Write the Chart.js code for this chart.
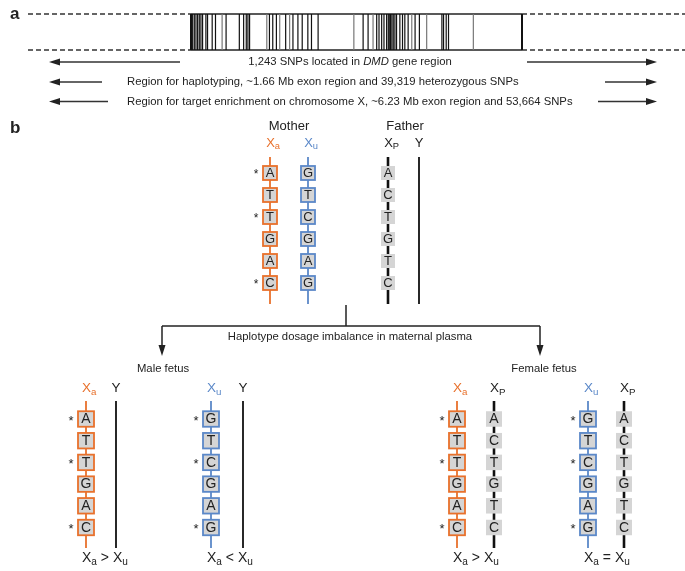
<!DOCTYPE html>
<html>
<head>
<meta charset="utf-8">
<script src="https://cdn.jsdelivr.net/npm/chart.js@4.4.0/dist/chart.umd.min.js"></script>
<style>
  html, body { margin: 0; padding: 0; background: #fff; }
  #wrap { width: 685px; height: 571px; position: relative; }
</style>
</head>
<body>
<div id="wrap"><canvas id="diagram"></canvas></div>
<script>
// SNP positions inside the DMD gene region (% of region length)
const snpPositions = [0, 0.5, 1, 1.5, 2, 2.5, 3, 3.5, 4.5, 5, 6.4, 7.4, 9.4, 10.6, 14.6, 15.9, 16.7, 17.2, 17.7,
  22.9, 23.7, 24.7, 25.8, 26.8, 28.6, 29.8, 30.8, 32.3, 33.6, 35.3, 36.4, 38.4, 49.2, 52, 53.5, 55, 56.1, 56.8,
  57.6, 58.3, 59.1, 59.6, 59.9, 60.3, 60.7, 61.1, 61.6, 62.1, 63.1, 63.9, 64.6, 65.6, 66.7, 67.7, 69, 71.2,
  75.8, 76.3, 77.1, 77.8, 85.3, 100];
const lightSnps = [9.4, 22.9, 26.8, 29.8, 49.2, 55, 66.7, 71.2, 85.3];

const regionTexts = [
  ['1,243 SNPs located in ', 'DMD', ' gene region'],
  ['Region for haplotyping, ~1.66 Mb exon region and 39,319 heterozygous SNPs'],
  ['Region for target enrichment on chromosome X, ~6.23 Mb exon region and 53,664 SNPs']
];

// alleles at the six SNP sites
const maternalXa = ['A', 'T', 'T', 'G', 'A', 'C'];
const maternalXu = ['G', 'T', 'C', 'G', 'A', 'G'];
const paternalXp = ['A', 'C', 'T', 'G', 'T', 'C'];
const starredSites = [0, 2, 5];

const fetusLabels = ['Male fetus', 'Female fetus'];
const dosageRelations = ['>', '<', '>', '='];

const ORANGE = '#e8712c';
const BLUE = '#5b88c8';
const BOXGREY = '#d5d5d5';
const INK = '#222';
const FONT = '"Liberation Sans", Arial, sans-serif';

const diagramPlugin = {
  id: 'diagram',
  afterDraw(chart) {
    const ctx = chart.ctx;
    const sx = chart.scales.x, sy = chart.scales.y;
    const px = v => sx.getPixelForValue(v);
    const py = v => sy.getPixelForValue(v);

    function line(x1, y1, x2, y2, color, w, dash) {
      ctx.save();
      ctx.strokeStyle = color;
      ctx.lineWidth = w;
      ctx.setLineDash(dash || []);
      ctx.beginPath();
      ctx.moveTo(px(x1), py(y1));
      ctx.lineTo(px(x2), py(y2));
      ctx.stroke();
      ctx.restore();
    }
    function text(str, x, y, size, opts) {
      opts = opts || {};
      ctx.save();
      ctx.font = (opts.style || '') + ' ' + size + 'px ' + FONT;
      ctx.fillStyle = opts.color || INK;
      ctx.textAlign = opts.align || 'center';
      ctx.textBaseline = 'middle';
      ctx.fillText(str, px(x), py(y));
      ctx.restore();
    }
    function width(str, size, style) {
      ctx.save();
      ctx.font = (style || '') + ' ' + size + 'px ' + FONT;
      const w = ctx.measureText(str).width;
      ctx.restore();
      return w;
    }
    // parts: [str, 'sub'|'', color]
    function rich(parts, x, y, size, align) {
      const subSize = size * 0.72;
      let total = 0;
      parts.forEach(p => { total += width(p[0], p[1] === 'sub' ? subSize : size); });
      let cx = align === 'left' ? x : x - total / 2;
      parts.forEach(p => {
        const sub = p[1] === 'sub';
        const s = sub ? subSize : size;
        text(p[0], cx, sub ? y + size * 0.3 : y, s, { align: 'left', color: p[2] || INK });
        cx += width(p[0], s);
      });
    }
    function hArrow(x1, x2, y) {
      const dir = x2 > x1 ? 1 : -1;
      line(x1, y, x2 - dir * 8, y, '#333', 1.5);
      ctx.save();
      ctx.fillStyle = '#222';
      ctx.beginPath();
      ctx.moveTo(px(x2), py(y));
      ctx.lineTo(px(x2 - dir * 11), py(y - 3.5));
      ctx.lineTo(px(x2 - dir * 11), py(y + 3.5));
      ctx.closePath();
      ctx.fill();
      ctx.restore();
    }
    function vArrow(x, y1, y2) {
      line(x, y1, x, y2 - 8, '#222', 1.5);
      ctx.save();
      ctx.fillStyle = '#222';
      ctx.beginPath();
      ctx.moveTo(px(x), py(y2));
      ctx.lineTo(px(x - 3.5), py(y2 - 11));
      ctx.lineTo(px(x + 3.5), py(y2 - 11));
      ctx.closePath();
      ctx.fill();
      ctx.restore();
    }
    // kind: 'a' maternal Xa, 'u' maternal Xu, 'p' paternal X, 'Y'
    function strand(kind, x, top, bottom, bases, g, stars) {
      const color = kind === 'a' ? ORANGE : kind === 'u' ? BLUE : '#111';
      line(x, top, x, bottom, color, kind === 'p' ? 2.6 : 1.8);
      if (kind === 'Y') return;
      bases.forEach((b, i) => {
        const cy = g.first + i * g.step;
        const l = px(x - g.w / 2), t = py(cy - g.h / 2);
        const w = px(x + g.w / 2) - l, h = py(cy + g.h / 2) - t;
        ctx.save();
        ctx.fillStyle = BOXGREY;
        ctx.fillRect(l, t, w, h);
        if (kind !== 'p') {
          ctx.strokeStyle = color;
          ctx.lineWidth = 1.8;
          ctx.strokeRect(l, t, w, h);
        }
        ctx.restore();
        text(b, x, cy + 0.5, g.font);
        if (stars && starredSites.includes(i)) {
          text('*', x - g.w / 2 - 7, cy + 2, g.font - 1);
        }
      });
    }
    function chromLabel(kind, x, y, size) {
      if (kind === 'Y') { text('Y', x, y, size); return; }
      const sub = kind === 'a' ? 'a' : kind === 'u' ? 'u' : 'P';
      const color = kind === 'a' ? ORANGE : kind === 'u' ? BLUE : INK;
      const xw = width('X', size);
      text('X', x - xw / 2 + 0.5, y, size, { align: 'left', color: color });
      text(sub, x + xw / 2 + 0.5, y + size * 0.3, size * 0.72, { align: 'left', color: color });
    }

    // ---------- panel a ----------
    text('a', 10, 14, 17, { style: 'bold', align: 'left' });
    const regL = 191, regR = 522, top = 14, bot = 50;
    [top, bot].forEach(y => {
      line(28, y, regL, y, '#333', 1.3, [5, 3]);
      line(regR, y, 685, y, '#333', 1.3, [5, 3]);
      line(regL, y, regR, y, '#222', 1.3);
    });
    snpPositions.forEach(p => {
      const x = regL + (regR - regL) * p / 100;
      const edge = p === 0 || p === 100;
      line(x, top, x, bot, lightSnps.includes(p) ? '#777' : '#111', edge ? 2 : 1.2);
    });

    const fs = 11.3;
    // row 1: centred with italic gene name
    const r1 = regionTexts[0];
    const w1 = width(r1[0], fs) + width(r1[1], fs, 'italic') + width(r1[2], fs);
    let cx = 350 - w1 / 2;
    text(r1[0], cx, 62, fs, { align: 'left' }); cx += width(r1[0], fs);
    text(r1[1], cx, 62, fs, { align: 'left', style: 'italic' }); cx += width(r1[1], fs, 'italic');
    text(r1[2], cx, 62, fs, { align: 'left' });
    hArrow(180, 49, 62);
    hArrow(527, 657, 62);
    text(regionTexts[1][0], 127, 82, fs, { align: 'left' });
    hArrow(102, 49, 82);
    hArrow(605, 657, 82);
    text(regionTexts[2][0], 127, 101.5, fs, { align: 'left' });
    hArrow(108, 49, 101.5);
    hArrow(598, 657, 101.5);

    // ---------- panel b ----------
    text('b', 10, 128, 17, { style: 'bold', align: 'left' });
    text('Mother', 289, 126, 13);
    text('Father', 405, 126, 13);
    const parentG = { first: 173, step: 22, w: 14, h: 14, font: 13 };
    chromLabel('a', 270, 143, 13);
    chromLabel('u', 308, 143, 13);
    chromLabel('p', 388, 143, 13);
    chromLabel('Y', 419, 143, 13);
    strand('a', 270, 157, 304, maternalXa, parentG, true);
    strand('u', 308, 157, 304, maternalXu, parentG, false);
    strand('p', 388, 157, 304, paternalXp, parentG, false);
    strand('Y', 419, 157, 304, [], parentG, false);

    line(346, 305, 346, 326, '#222', 1.5);
    line(162, 326, 540, 326, '#222', 1.5);
    vArrow(162, 326, 356);
    vArrow(540, 326, 356);
    text('Haplotype dosage imbalance in maternal plasma', 350, 337, fs);

    text(fetusLabels[0], 163, 369, fs);
    text(fetusLabels[1], 544, 369, fs);

    const fetusG = { first: 419, step: 21.7, w: 16, h: 15.5, font: 14 };
    const pairs = [
      ['a', 86, maternalXa, 'Y', 116, []],
      ['u', 211, maternalXu, 'Y', 243, []],
      ['a', 457, maternalXa, 'p', 494, paternalXp],
      ['u', 588, maternalXu, 'p', 624, paternalXp]
    ];
    pairs.forEach((pr, i) => {
      chromLabel(pr[0], pr[1], 388, 13.5);
      chromLabel(pr[3], pr[4], 388, 13.5);
      strand(pr[0], pr[1], 401, 548, pr[2], fetusG, true);
      strand(pr[3], pr[4], 401, 548, pr[5], fetusG, false);
      rich([['X', ''], ['a', 'sub'], [' ' + dosageRelations[i] + ' ', ''], ['X', ''], ['u', 'sub']],
        pr[1] - 4, 558, 14, 'left');
    });
  }
};

new Chart(document.getElementById('diagram'), {
  type: 'scatter',
  data: { datasets: [{ data: [] }] },
  options: {
    responsive: true,
    maintainAspectRatio: false,
    animation: false,
    layout: { padding: 0 },
    plugins: { legend: { display: false }, tooltip: { enabled: false } },
    scales: {
      x: { type: 'linear', min: 0, max: 685, display: false },
      y: { type: 'linear', min: 0, max: 571, reverse: true, display: false }
    }
  },
  plugins: [diagramPlugin]
});
</script>
</body>
</html>
